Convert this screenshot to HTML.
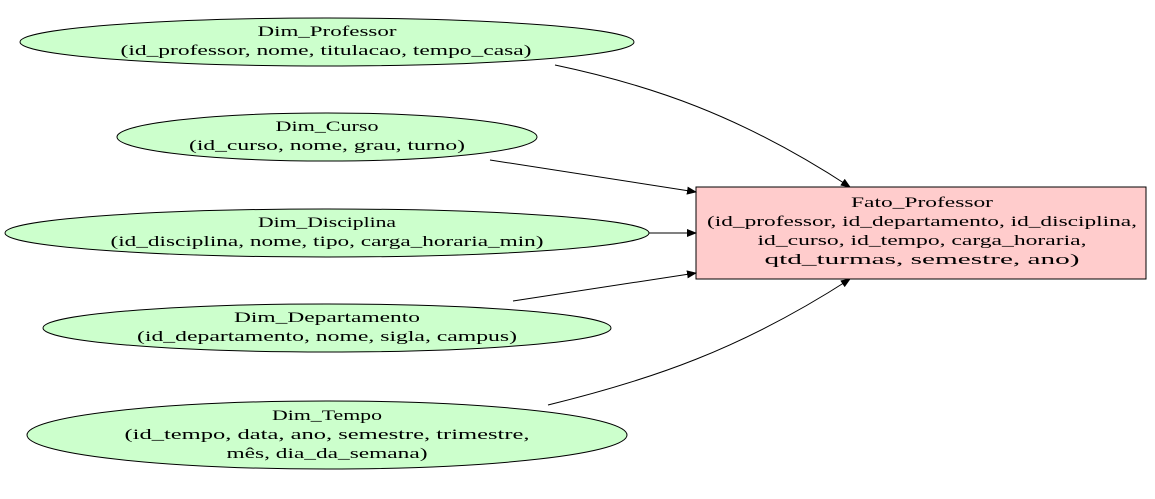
<!DOCTYPE html>
<html><head><meta charset="utf-8"><style>
html,body{margin:0;padding:0;background:#fff;}
svg text{font-family:"Liberation Serif","DejaVu Serif",serif;font-size:14.5px;fill:#000;text-anchor:middle;}
</style></head><body>
<svg width="1155" height="494" viewBox="0 0 1155 494" xmlns="http://www.w3.org/2000/svg">
<defs><marker id="a" markerWidth="10" markerHeight="8" refX="9" refY="4" orient="auto" markerUnits="userSpaceOnUse"><path d="M0,0 L10,4 L0,8 Z" fill="#000"/></marker></defs>
<g fill="#ccffcc" stroke="#000" stroke-width="1">
<ellipse cx="327" cy="42" rx="307" ry="24"/>
<ellipse cx="327" cy="137" rx="210" ry="24"/>
<ellipse cx="327" cy="233" rx="322" ry="24"/>
<ellipse cx="327" cy="328" rx="284" ry="24"/>
<ellipse cx="327" cy="435" rx="300" ry="34"/>
</g>
<rect x="696" y="187" width="450" height="92" fill="#ffcccc" stroke="#000"/>
<g fill="none" stroke="#000" stroke-width="1">
<path d="M555,65 C650,85 740,115 850,187" marker-end="url(#a)"/>
<path d="M490,160 L696,192" marker-end="url(#a)"/>
<path d="M649,233 L696,233" marker-end="url(#a)"/>
<path d="M513,301 L696,273" marker-end="url(#a)"/>
<path d="M548,405 C650,380 740,350 850,279" marker-end="url(#a)"/>
</g>
<g>
<text x="327" y="36" textLength="139" lengthAdjust="spacingAndGlyphs">Dim_Professor</text>
<text x="326" y="55" textLength="411" lengthAdjust="spacingAndGlyphs">(id_professor, nome, titulacao, tempo_casa)</text>
<text x="327" y="131" textLength="103" lengthAdjust="spacingAndGlyphs">Dim_Curso</text>
<text x="327" y="150" textLength="276" lengthAdjust="spacingAndGlyphs">(id_curso, nome, grau, turno)</text>
<text x="327" y="227" textLength="138" lengthAdjust="spacingAndGlyphs">Dim_Disciplina</text>
<text x="327" y="246" textLength="433" lengthAdjust="spacingAndGlyphs">(id_disciplina, nome, tipo, carga_horaria_min)</text>
<text x="327" y="322" textLength="186" lengthAdjust="spacingAndGlyphs">Dim_Departamento</text>
<text x="327" y="341" textLength="380" lengthAdjust="spacingAndGlyphs">(id_departamento, nome, sigla, campus)</text>
<text x="327" y="420" textLength="110" lengthAdjust="spacingAndGlyphs">Dim_Tempo</text>
<text x="327" y="439" textLength="405" lengthAdjust="spacingAndGlyphs">(id_tempo, data, ano, semestre, trimestre,</text>
<text x="327" y="458" textLength="201" lengthAdjust="spacingAndGlyphs">mês, dia_da_semana)</text>
<text x="922" y="207" textLength="142" lengthAdjust="spacingAndGlyphs">Fato_Professor</text>
<text x="922" y="226" textLength="430" lengthAdjust="spacingAndGlyphs">(id_professor, id_departamento, id_disciplina,</text>
<text x="922" y="245" textLength="329" lengthAdjust="spacingAndGlyphs">id_curso, id_tempo, carga_horaria,</text>
<text x="922" y="264" textLength="315" lengthAdjust="spacingAndGlyphs">qtd_turmas, semestre, ano)</text>
</g>
</svg>
</body></html>
